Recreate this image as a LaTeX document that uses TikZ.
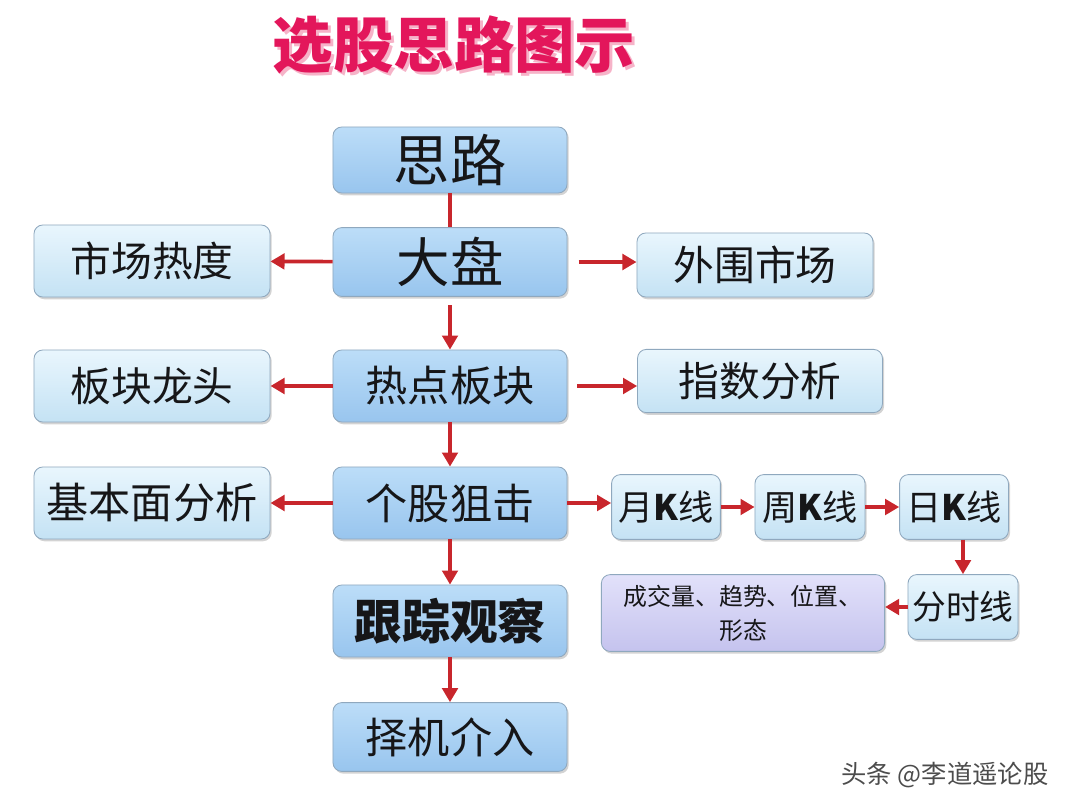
\documentclass[tikz,border=0pt]{standalone}
\usepackage{fontspec}
\setmainfont{Noto Sans CJK SC}
\usetikzlibrary{arrows.meta,shadows}
\definecolor{flowred}{HTML}{C8262C}
\definecolor{boxline}{HTML}{8FA8BE}
\definecolor{maintop}{HTML}{BCDDF8}
\definecolor{mainbot}{HTML}{98C5EE}
\definecolor{sidetop}{HTML}{E9F6FD}
\definecolor{sidebot}{HTML}{C4E2F4}
\definecolor{notetop}{HTML}{E2E1FA}
\definecolor{notebot}{HTML}{C5C3EE}
\definecolor{titlepink}{HTML}{E3165B}
\definecolor{titleshade}{HTML}{F6B3C8}
\definecolor{textdark}{HTML}{161618}
\tikzset{
  box/.style={draw=boxline, line width=0.6pt, rounded corners=0.22cm, inner sep=0pt,
    text=textdark, align=center,
    drop shadow={shadow xshift=1.2pt, shadow yshift=-1.6pt, opacity=0.35}},
  mainbox/.style={box, top color=maintop, bottom color=mainbot,
    minimum width=5.85cm, minimum height=1.8cm, font=\fontsize{30}{36}\selectfont},
  sidebox/.style={box, top color=sidetop, bottom color=sidebot,
    minimum width=5.9cm, minimum height=1.8cm, font=\fontsize{29}{35}\selectfont},
  kbox/.style={box, top color=sidetop, bottom color=sidebot,
    minimum width=2.72cm, minimum height=1.62cm, font=\fontsize{25}{30}\selectfont},
  notebox/.style={box, top color=notetop, bottom color=notebot,
    minimum width=7.08cm, minimum height=1.92cm, font=\fontsize{17}{24}\selectfont},
  flow/.style={draw=flowred, line width=2.6pt, -{Triangle[length=10pt,width=11pt]}},
  link/.style={draw=flowred, line width=2.6pt}
}
\begin{document}
\begin{tikzpicture}[x=0.025cm,y=-0.025cm]
\useasboundingbox (0,0) rectangle (1080,810);
\node[text=titleshade, font=\fontsize{43}{50}\selectfont\bfseries] (titleshadow) at (457,48) {选股思路图示};
\node[text=titlepink, font=\fontsize{43}{50}\selectfont\bfseries] (title) at (454,45) {选股思路图示};
\node[mainbox, minimum height=1.65cm, font=\fontsize{40}{48}\selectfont] (siLu) at (450,160) {思路};
\node[mainbox, minimum height=1.72cm, font=\fontsize{38}{44}\selectfont] (daPan) at (450,262) {大盘};
\node[mainbox] (reDian) at (450,386) {热点板块};
\node[mainbox] (geGu) at (450,503) {个股狙击};
\node[mainbox, font=\fontsize{34}{40}\selectfont\bfseries] (genZong) at (450,621) {跟踪观察};
\node[mainbox, minimum height=1.72cm] (zeJi) at (450,737) {择机介入};
\node[sidebox] (shiChang) at (152,261) {市场热度};
\node[sidebox] (banKuai) at (152,386) {板块龙头};
\node[sidebox, font=\fontsize{30}{36}\selectfont] (jiBen) at (152,503) {基本面分析};
\node[sidebox, minimum height=1.6cm] (waiWei) at (755,265) {外围市场};
\node[sidebox, minimum width=6.12cm, minimum height=1.58cm] (zhiShu) at (760,381) {指数分析};
\node[kbox] (yueK) at (666,507) {月\textbf{K}线};
\node[kbox, minimum width=2.75cm] (zhouK) at (810,507) {周\textbf{K}线};
\node[kbox] (riK) at (954,507) {日\textbf{K}线};
\node[kbox, minimum width=2.75cm, font=\fontsize{24}{30}\selectfont] (fenShi) at (963,607) {分时线};
\node[notebox] (chengJiao) at (743,613) {成交量、趋势、位置、\\形态};
\node[text=black!70, font=\fontsize{18}{22}\selectfont] (mark) at (945,775) {头条 @李道遥论股};
\draw[link] (siLu) -- (daPan);
\draw[flow] (daPan) -- (shiChang);
\draw[flow, shorten <=8pt] (daPan.east) -- (daPan.east -| waiWei.west);
\draw[flow, shorten <=6pt] (daPan) -- (reDian);
\draw[flow] (reDian) -- (banKuai);
\draw[flow, shorten <=7pt] (reDian.east) -- (reDian.east -| zhiShu.west);
\draw[flow] (reDian) -- (geGu);
\draw[flow] (geGu) -- (jiBen);
\draw[flow] (geGu.east) -- (geGu.east -| yueK.west);
\draw[flow] (geGu) -- (genZong);
\draw[flow] (genZong) -- (zeJi);
\draw[flow] (yueK) -- (zhouK);
\draw[flow] (zhouK) -- (riK);
\draw[flow] (riK.south -| fenShi.north) -- (fenShi.north);
\draw[flow] (fenShi) -- (fenShi.west -| chengJiao.east);
\end{tikzpicture}
\end{document}
